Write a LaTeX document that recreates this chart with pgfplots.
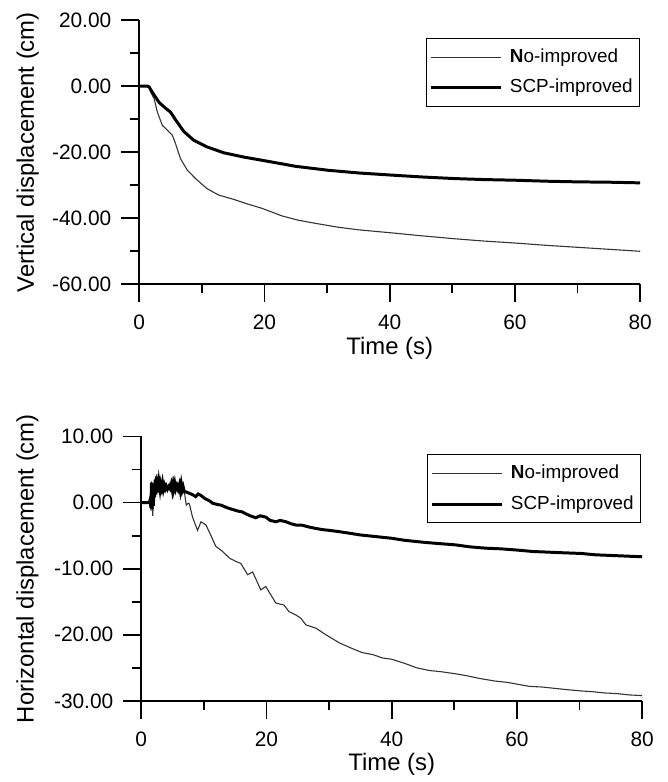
\documentclass[border=0pt]{standalone}
\usepackage{pgfplots}
\pgfplotsset{compat=1.18}
\usepackage{fontspec}
\setmainfont{Liberation Sans}
\begin{document}
\begin{tikzpicture}
\path (0,0) rectangle (335.5pt,-391pt);
\pgfplotsset{
  myaxis/.style={
    scale only axis, width=252pt, height=133pt,
    axis lines*=left,
    axis line style={line width=1pt},
    tick align=outside,
    major tick length=9pt, minor tick length=4.5pt,
    every tick/.style={black, line width=0.9pt},
    minor tick num=1,
    /pgf/number format/assume math mode=true,
    xmin=0, xmax=80, xtick={0,20,40,60,80},
    xticklabels={0,20,40,60,80},
    tick label style={font=\fontsize{10.5}{12}\selectfont},
    x tick label style={yshift=-3pt},
    y tick label style={xshift=-1.5pt},
    label style={font=\fontsize{12}{14}\selectfont},
    clip=false,
    legend style={draw=black, line width=0.5pt, anchor=north east,
      font=\fontsize{9.5}{11}\selectfont, inner xsep=1.5pt, inner ysep=3.2pt,
      row sep=3pt, cells={anchor=west}},
    legend image code/.code={\draw[##1] (0pt,0pt) -- (35.5pt,0pt);},
    thinline/.style={black!80, line width=0.55pt},
    thickline/.style={black, line width=1.5pt},
  }
}
\begin{axis}[myaxis,
  at={(70pt,-143pt)}, anchor=south west,
  ymin=-60, ymax=20, ytick={-60,-40,-20,0,20},
  yticklabels={-60.00,-40.00,-20.00,0.00,20.00},
  xlabel={Time (s)}, ylabel={Vertical displacement (cm)},
  xlabel style={at={(axis description cs:0.5,-0.267)}, anchor=base},
  ylabel style={at={(axis description cs:-0.21,0.5)}, anchor=base, rotate=0},
  legend style={at={(axis description cs:1.0,0.932)}},
]
\addplot[thinline] coordinates {
(0,0) (1.3,0) (1.6,-0.5) (1.85,-1.9) (2.4,-3.9) (2.9,-7.9) (3.7,-11.9) (4.5,-13.4) (5.3,-14.9) (5.8,-17.4) (6.6,-22.0) (7.7,-25.5) (9.0,-28.0) (10.8,-31.0) (12.7,-33.0) (15.1,-34.3) (17.5,-35.8) (19.6,-37.0) (22.8,-39.3) (25.4,-40.6) (28,-41.5) (31.7,-42.7) (35,-43.5) (40.7,-44.5) (45,-45.3) (50.3,-46.2) (55,-46.9) (60,-47.5) (65,-48.2) (70,-48.8) (75,-49.4) (80,-50.0)
};
\addlegendentry{\hspace{1.5pt}\textbf{N}o-improved}
\addplot[thickline] coordinates {
(0,0) (1.3,0) (1.6,-0.3) (2.1,-1.9) (3.2,-5.0) (4.2,-6.7) (5.0,-7.9) (5.8,-10.2) (7.1,-13.7) (8.7,-16.4) (10.8,-18.4) (13.5,-20.2) (16.7,-21.5) (21.2,-23.0) (25,-24.3) (30.2,-25.5) (35,-26.3) (40.7,-27.0) (45,-27.5) (50.3,-28.0) (55,-28.3) (60,-28.5) (65,-28.8) (70,-29.0) (75,-29.1) (80,-29.3)
};
\addlegendentry{\hspace{1.5pt}SCP-improved}
\end{axis}
\begin{axis}[myaxis,
  at={(71pt,-352.5pt)}, anchor=south west,
  ymin=-30, ymax=10, ytick={-30,-20,-10,0,10},
  yticklabels={-30.00,-20.00,-10.00,0.00,10.00},
  xlabel={Time (s)}, ylabel={Horizontal displacement (cm)},
  xlabel style={at={(axis description cs:0.5,-0.263)}, anchor=base},
  ylabel style={at={(axis description cs:-0.2147,0.5)}, anchor=base, rotate=0},
  legend style={at={(axis description cs:0.998,0.932)}},
]
\addplot[thinline] coordinates {
(0,0) (1.3,0) (1.45,1.0) (1.55,-1.2) (1.65,3.2) (1.75,-0.5) (1.85,-2.0) (1.95,0.5) (2.05,3.0) (2.15,1.0) (2.3,4.0) (2.4,2.0) (2.5,4.3) (2.6,2.5) (2.7,4.0) (2.85,2.2) (3.0,3.5) (3.15,2.0) (3.3,2.8) (3.5,2.2) (3.7,2.8) (3.9,2.0) (4.1,2.6) (4.3,2.2) (4.5,2.8) (4.7,2.0) (4.85,3.0) (5.0,2.2) (5.1,4.0) (5.25,2.5) (5.4,3.2) (5.6,2.0) (5.8,2.8) (6.0,2.2) (6.2,3.0) (6.4,2.0) (6.6,2.3) (6.9,1.6) (7.2,-0.4) (7.5,-0.1) (7.7,-0.2) (8.2,-2.2) (9.0,-4.2) (9.55,-2.9) (10.35,-3.4) (11.1,-4.9) (11.9,-6.6) (13.0,-7.4) (14.1,-8.4) (15.1,-8.9) (15.9,-9.2) (17.0,-10.9) (17.8,-10.5) (19.1,-13.2) (19.9,-12.7) (21.5,-15.2) (22.8,-15.5) (23.6,-16.5) (24.7,-17.0) (25.5,-17.5) (26.3,-18.5) (27.9,-19.0) (29.5,-20.0) (31.6,-21.2) (33.5,-22.0) (35.3,-22.7) (37.0,-23.0) (38.5,-23.5) (40,-23.7) (42,-24.3) (44,-25.0) (46,-25.4) (48,-25.6) (50.2,-25.9) (52,-26.2) (54,-26.6) (56.5,-27.0) (58.5,-27.2) (60.2,-27.5) (62,-27.8) (64,-27.9) (66,-28.1) (68,-28.3) (70.3,-28.5) (72,-28.6) (74,-28.8) (76,-28.9) (78,-29.1) (80,-29.2)
};
\addlegendentry{\hspace{1.5pt}\textbf{N}o-improved}
\addplot[thickline] coordinates {
(0,0) (1.3,0) (1.45,0.5) (1.55,-0.8) (1.65,3.0) (1.75,-1.0) (1.85,1.5) (1.95,-0.5) (2.05,2.8) (2.15,0.8) (2.25,3.5) (2.35,1.2) (2.45,3.8) (2.55,1.5) (2.65,3.2) (2.75,1.8) (2.85,3.0) (3.0,2.0) (3.1,2.8) (3.25,2.2) (3.4,3.0) (3.55,2.0) (3.7,2.6) (3.85,2.1) (4.0,2.5) (4.2,2.0) (4.4,2.4) (4.6,2.1) (4.8,2.8) (4.95,2.0) (5.1,3.5) (5.2,2.2) (5.35,2.9) (5.5,2.0) (5.7,2.6) (5.9,2.0) (6.1,2.7) (6.25,1.8) (6.4,2.8) (6.55,1.9) (6.7,2.4) (6.9,1.6) (7.2,1.6) (7.7,1.4) (8.2,1.2) (8.7,0.9) (9.1,1.3) (9.5,1.1) (10.2,0.6) (11.0,0.2) (11.4,-0.1) (12.2,-0.3) (12.8,-0.4) (13.5,-0.7) (14.1,-0.9) (14.8,-1.1) (15.5,-1.3) (16.1,-1.4) (16.7,-1.7) (17.4,-2.0) (18.3,-2.3) (19.0,-2.0) (19.9,-2.2) (20.6,-2.7) (21.5,-2.9) (22.2,-2.7) (23.1,-2.9) (23.9,-3.2) (24.7,-3.4) (25.6,-3.4) (26.8,-3.7) (27.8,-3.9) (29.0,-4.1) (30.0,-4.2) (31.6,-4.4) (33,-4.6) (35,-4.9) (37,-5.1) (40,-5.4) (42,-5.7) (45,-6.0) (47.5,-6.2) (50.2,-6.4) (52.5,-6.7) (55,-6.9) (57.5,-7.0) (60.2,-7.2) (62.5,-7.4) (65,-7.5) (67.5,-7.6) (70.3,-7.7) (72.5,-7.9) (75,-8.0) (77.5,-8.1) (80,-8.2)
};
\addlegendentry{\hspace{1.5pt}SCP-improved}
\end{axis}
\end{tikzpicture}
\end{document}
